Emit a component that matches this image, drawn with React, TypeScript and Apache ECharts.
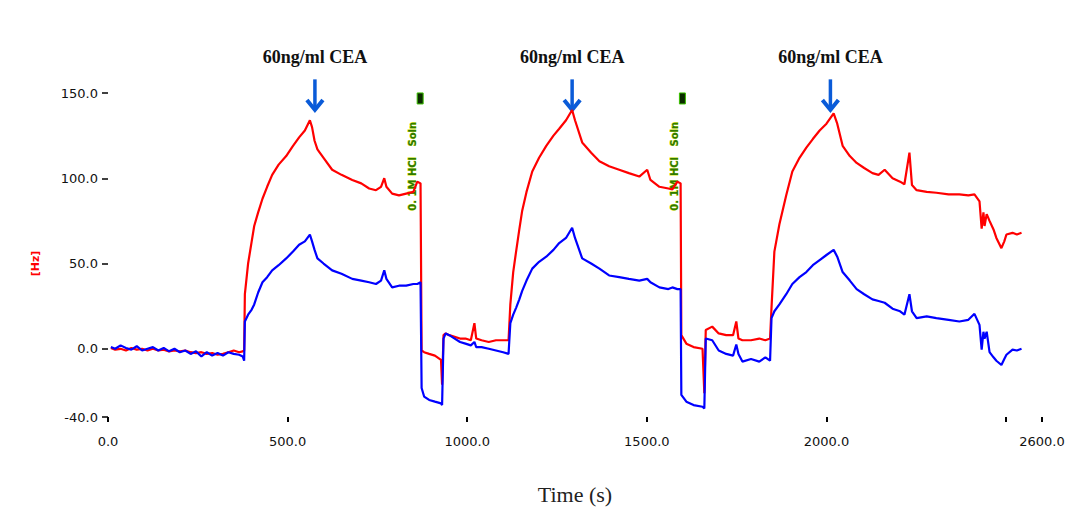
import React, { useEffect, useRef } from 'react';
import * as echarts from 'echarts';

// time axis (s), shared by both traces
const timeS = [
  8, 20, 35, 50, 65, 80, 95, 110, 125, 140, 155, 170, 185, 200, 215, 230, 245, 260, 275, 290, 305, 320, 335, 350, 365, 375, 379,
  381, 390, 400, 407, 418, 430, 443, 457, 475, 496, 515, 532, 548, 562, 568,
  575, 583, 600, 624, 650, 680, 705, 727, 746, 760, 769, 775, 791, 810, 830, 850, 861, 870,
  873, 880, 894, 910, 927, 930, 934, 940, 950, 965, 980, 995, 1010, 1020, 1025, 1040, 1060, 1080, 1100, 1115,
  1120, 1128, 1136, 1145, 1153, 1165, 1181, 1200, 1220, 1240, 1256, 1275, 1292,
  1300, 1320, 1345, 1368, 1395, 1423, 1450, 1479, 1501, 1510, 1535, 1560, 1571, 1585, 1594,
  1596, 1610, 1630, 1655, 1660, 1664, 1682, 1700, 1721, 1740, 1749, 1755, 1766, 1790, 1813, 1830, 1843,
  1847, 1855, 1869, 1888, 1905, 1925, 1944, 1962, 1981, 2000, 2020,
  2030, 2045, 2065, 2084, 2105, 2128, 2145, 2162, 2184, 2205, 2217, 2231, 2238, 2251, 2279, 2306, 2340, 2370, 2395, 2412,
  2426, 2432, 2437, 2440, 2446, 2454, 2465, 2473, 2487, 2495, 2501, 2518, 2530, 2543,
];

// red trace (Hz)
const redHz = [
  0.5, -0.5, 0, -1, 0.5, -0.5, 0, -1, 0, -1, -0.5, -1.5, -1, -1.5, -1, -2, -2.5, -2, -3, -2.5, -3.5, -3, -2, -1, -2, -1.5, -1,
  32, 50, 63, 72, 80, 88, 95, 102, 108, 113, 119, 124, 128, 134, 130,
  122, 117, 112, 105, 102, 99, 97, 94, 93, 95, 100, 95, 91, 90, 91, 92, 98, 97,
  -1, -2, -3, -4, -6.5, -21, 8, 9, 8, 7, 6, 6, 5, 15, 6, 5, 4, 5, 5, 5,
  26, 45, 57, 70, 81, 92, 104, 112, 119, 125, 129, 134, 140,
  134, 121, 115, 110, 107, 105, 103, 101, 105, 99, 95, 94, 93.5, 98, 97,
  8, 3, 1, 0, -26, 11, 13, 9, 8, 8, 16, 6, 5, 5, 6, 5, 6,
  24, 57, 73, 90, 104, 112, 118, 123, 128, 132, 138,
  132, 119, 113, 109, 106, 103, 102, 105, 100, 98, 96.5, 115, 96, 93, 92, 91.5, 90.5, 90.5, 90, 90.5,
  86.5, 70.5, 80, 72, 79, 75, 70, 65, 59, 63, 67, 68, 67, 68,
];

// blue trace (Hz)
const blueHz = [
  1, 0, 2, 0.5, -0.5, 1.5, -1, 0, 1, -1, 0.5, -1.5, 0, -2, -1, -3, -1.5, -4.5, -2, -4, -2.5, -4, -2, -3, -3.5, -4.5, -7,
  16, 20, 23, 26, 33, 39, 42, 46, 49, 53, 57, 61, 63, 67, 63,
  58, 53, 50, 46, 44, 41, 40, 39, 38, 40, 46, 41, 36, 37, 37, 38, 38, 39,
  -23, -28, -30, -31, -32, -33, 6, 9, 8, 6, 4, 3, 2, 4, 1, 1, 0, -1, -2, -3,
  15, 20, 24, 29, 34, 40, 47, 51, 54, 58, 62, 65, 71,
  65, 53, 50, 47, 43, 42, 41, 40, 41, 39, 36, 35, 36, 35, 35,
  -27, -31, -33, -34, -35, 6, 5, -1, -3, -4, 2.5, -3, -7.5, -6, -7.5, -5, -7,
  18, 22, 26, 32, 38, 42, 45, 49, 52, 55, 58,
  54, 45, 40, 35, 32, 29, 28, 27, 23.5, 22, 20, 32, 22, 18, 19, 18, 17, 16, 17, 20.5,
  14, -0.5, 10, 6, 10, -2, -5, -7, -9.5, -6, -3.5, -0.5, -1, 0,
];

const xLabelValues = [0, 500, 1000, 1500, 2000, 2600];
const xTickValues = [0, 500, 1000, 1500, 2000, 2500, 2600];
const yTickValues = [-40, 0, 50, 100, 150];

const injectionTimes = [576, 1292, 2011];
const injectionLabel = '60ng/ml CEA';
const regenTimes = [869, 1599];
const regenLabel = '0. 1M HCl   Soln';
const yUnitLabel = '[Hz]';

export default function App() {
  const ref = useRef<HTMLDivElement>(null);
  useEffect(() => {
    const chart = echarts.init(ref.current!, null, { renderer: 'svg' });
    const pairs = (vals: number[]) => timeS.map((t, i) => [t, vals[i]]);
    chart.setOption({
      animation: false,
      backgroundColor: '#ffffff',
      grid: { left: 108, right: 38, top: 93, bottom: 98 },
      xAxis: {
        type: 'value',
        min: 0,
        max: 2600,
        name: 'Time (s)',
        nameLocation: 'middle',
        nameGap: 66,
        nameTextStyle: { fontFamily: 'Liberation Serif', fontSize: 22, color: '#222' },
        axisLine: { show: false, onZero: false },
        axisTick: { show: true, length: 5, customValues: xTickValues, lineStyle: { color: '#000', width: 2 } },
        axisLabel: {
          customValues: xLabelValues,
          formatter: (v: number) => v.toFixed(1),
          margin: 18,
          fontFamily: 'DejaVu Sans',
          fontSize: 13,
          color: '#111',
        },
        splitLine: { show: false },
      },
      yAxis: {
        type: 'value',
        min: -40,
        max: 150,
        axisLine: { show: false, onZero: false },
        axisTick: { show: true, length: 6, customValues: yTickValues, lineStyle: { color: '#000', width: 1.5 } },
        axisLabel: {
          customValues: yTickValues,
          formatter: (v: number) => v.toFixed(1),
          margin: 10,
          fontFamily: 'DejaVu Sans',
          fontSize: 13,
          color: '#111',
        },
        splitLine: { show: false },
      },
      series: [
        {
          type: 'line',
          name: 'red',
          data: pairs(redHz),
          showSymbol: false,
          clip: false,
          lineStyle: { color: '#ff0000', width: 2.2 },
          itemStyle: { color: '#ff0000' },
        },
        {
          type: 'line',
          name: 'blue',
          data: pairs(blueHz),
          showSymbol: false,
          clip: false,
          lineStyle: { color: '#0000ff', width: 2.2 },
          itemStyle: { color: '#0000ff' },
        },
      ],
    });

    const px = (t: number, v: number) => chart.convertToPixel({ gridIndex: 0 }, [t, v]) as number[];
    const graphics: any[] = [];
    const arrowColor = '#0a5bd8';
    injectionTimes.forEach((t) => {
      const top = px(t, 158);
      const tip = px(t, 139.5);
      const txt = px(t, 171);
      graphics.push({
        type: 'line',
        shape: { x1: top[0], y1: top[1], x2: tip[0], y2: tip[1] - 3 },
        style: { stroke: arrowColor, lineWidth: 3.5 },
      });
      graphics.push({
        type: 'polyline',
        shape: { points: [[tip[0] - 8, tip[1] - 11], [tip[0], tip[1] - 1], [tip[0] + 8, tip[1] - 11]] },
        style: { stroke: arrowColor, lineWidth: 4, fill: 'none' },
      });
      graphics.push({
        type: 'text',
        x: txt[0],
        y: txt[1],
        style: {
          text: injectionLabel,
          align: 'center',
          verticalAlign: 'middle',
          fontFamily: 'Liberation Serif',
          fontWeight: 'bold',
          fontSize: 18,
          fill: '#111',
        },
      });
    });
    regenTimes.forEach((t) => {
      const c = px(t - 22, 107);
      const sq = px(t, 146.5);
      graphics.push({
        type: 'text',
        x: c[0],
        y: c[1],
        rotation: Math.PI / 2,
        style: {
          text: regenLabel,
          align: 'center',
          verticalAlign: 'middle',
          fontFamily: 'DejaVu Sans',
          fontWeight: 'bold',
          fontSize: 10,
          fill: '#2f7a00',
          stroke: '#d6e800',
          lineWidth: 0.6,
        },
      });
      graphics.push({
        type: 'rect',
        shape: { x: sq[0] - 3, y: sq[1] - 6, width: 6, height: 11 },
        style: { fill: '#0b2a00', stroke: '#3cc000', lineWidth: 1 },
      });
    });
    const hz = px(0, 50);
    graphics.push({
      type: 'text',
      x: 35,
      y: hz[1],
      rotation: Math.PI / 2,
      style: {
        text: yUnitLabel,
        align: 'center',
        verticalAlign: 'middle',
        fontFamily: 'DejaVu Sans',
        fontWeight: 'bold',
        fontSize: 11,
        fill: '#ff0000',
      },
    });
    chart.setOption({ graphic: graphics });

    return () => chart.dispose();
  }, []);
  return <div ref={ref} style={{ position: 'fixed', left: 0, top: 0, width: 1080, height: 515 }} />;
}
